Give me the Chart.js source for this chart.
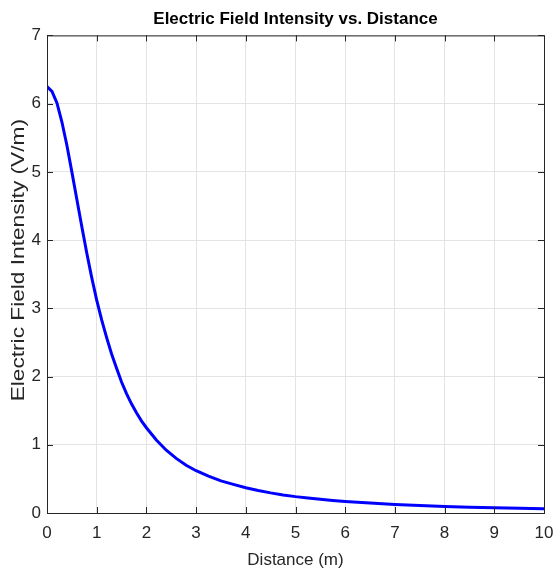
<!DOCTYPE html>
<html>
<head>
<meta charset="utf-8">
<title>Electric Field Intensity vs. Distance</title>
<script src="https://cdn.jsdelivr.net/npm/chart.js@4/dist/chart.umd.min.js"></script>
<style>
  html, body { margin: 0; padding: 0; background: #ffffff; }
  #wrap { width: 553px; height: 571px; position: relative; }
</style>
</head>
<body>
<div id="wrap"><canvas id="chart"></canvas></div>
<script>
// values
const distance = [0, 0.1, 0.2, 0.3, 0.4, 0.5, 0.6, 0.7, 0.8, 0.9, 1.0, 1.1, 1.2, 1.3, 1.4, 1.5, 1.6, 1.7, 1.8, 1.9, 2.0,
                  2.2, 2.4, 2.6, 2.8, 3.0, 3.25, 3.5, 3.75, 4.0, 4.25, 4.5, 4.75, 5.0, 5.25, 5.5, 5.75, 6.0,
                  6.5, 7.0, 7.5, 8.0, 8.5, 9.0, 9.5, 10.0];
const intensity = [6.25, 6.18, 6.01, 5.73, 5.39, 5.00, 4.60, 4.20, 3.81, 3.45, 3.12, 2.83, 2.57, 2.33, 2.12, 1.92, 1.75, 1.60, 1.47, 1.35, 1.25,
                   1.07, 0.92, 0.80, 0.70, 0.62, 0.54, 0.47, 0.42, 0.37, 0.33, 0.295, 0.265, 0.24, 0.22, 0.20, 0.183, 0.168,
                   0.145, 0.125, 0.11, 0.096, 0.085, 0.076, 0.069, 0.062];
const xTicks = [0, 1, 2, 3, 4, 5, 6, 7, 8, 9, 10];
const yTicks = [0, 1, 2, 3, 4, 5, 6, 7];

const titleText = 'Electric Field Intensity vs. Distance';
const xLabel = 'Distance (m)';
const yLabel = 'Electric Field Intensity (V/m)';

const axisColor = '#262626';
const font = "'Liberation Sans', Arial, Helvetica, sans-serif";

// matlab style box with inward ticks + stretched y label
const boxPlugin = {
    id: 'box',
    afterDraw(chart) {
        const ctx = chart.ctx;
        const a = chart.chartArea;
        const xs = chart.scales.x, ys = chart.scales.y;
        ctx.save();
        ctx.strokeStyle = axisColor;
        ctx.lineWidth = 1;
        ctx.strokeRect(a.left + 0.5, a.top + 0.5, a.right - a.left, a.bottom - a.top);
        ctx.beginPath();
        xTicks.forEach(v => {
            const px = Math.round(xs.getPixelForValue(v)) + 0.5;
            ctx.moveTo(px, a.bottom); ctx.lineTo(px, a.bottom - 6);
            ctx.moveTo(px, a.top); ctx.lineTo(px, a.top + 6);
        });
        yTicks.forEach(v => {
            const py = Math.round(ys.getPixelForValue(v)) + 0.5;
            ctx.moveTo(a.left, py); ctx.lineTo(a.left + 6, py);
            ctx.moveTo(a.right, py); ctx.lineTo(a.right - 6, py);
        });
        ctx.stroke();

        ctx.fillStyle = axisColor;
        ctx.font = '18px ' + font;
        ctx.textAlign = 'center';
        ctx.textBaseline = 'middle';
        ctx.translate(19, (a.top + a.bottom) / 2 - 14);
        ctx.rotate(-Math.PI / 2);
        ctx.scale(1.26, 1);
        ctx.fillText(yLabel, 0, 0);
        ctx.restore();
    }
};

new Chart(document.getElementById('chart'), {
    type: 'line',
    data: {
        datasets: [{
            data: distance.map((d, i) => ({ x: d, y: intensity[i] })),
            borderColor: '#0000ff',
            borderWidth: 3,
            pointRadius: 0,
            fill: false,
            tension: 0
        }]
    },
    options: {
        responsive: true,
        maintainAspectRatio: false,
        animation: false,
        layout: { padding: { left: 0, right: 0, top: 0, bottom: 0 } },
        plugins: {
            legend: { display: false },
            tooltip: { enabled: false },
            title: {
                display: true,
                fullSize: false,
                text: titleText,
                color: '#000000',
                font: { family: font, size: 17, weight: 'bold', lineHeight: 1.2 },
                padding: { top: 9, bottom: 6 }
            }
        },
        scales: {
            x: {
                type: 'linear',
                min: 0,
                max: 10,
                afterBuildTicks: s => { s.ticks = xTicks.map(v => ({ value: v })); },
                afterFit: s => { s.height = 58; s.paddingRight = 9; },
                grid: { color: '#e3e3e3', drawTicks: false },
                border: { display: false },
                ticks: { color: axisColor, padding: 10, maxRotation: 0, font: { family: font, size: 17 } },
                title: {
                    display: true,
                    text: xLabel,
                    color: axisColor,
                    font: { family: font, size: 17, lineHeight: 1.2 },
                    padding: { top: 5, bottom: 0 }
                }
            },
            y: {
                min: 0,
                max: 7,
                afterBuildTicks: s => { s.ticks = yTicks.map(v => ({ value: v })); },
                afterFit: s => { s.width = 47; },
                grid: { color: '#e3e3e3', drawTicks: false },
                border: { display: false },
                ticks: { color: axisColor, padding: 6, font: { family: font, size: 17 } }
            }
        }
    },
    plugins: [boxPlugin]
});
</script>
</body>
</html>
